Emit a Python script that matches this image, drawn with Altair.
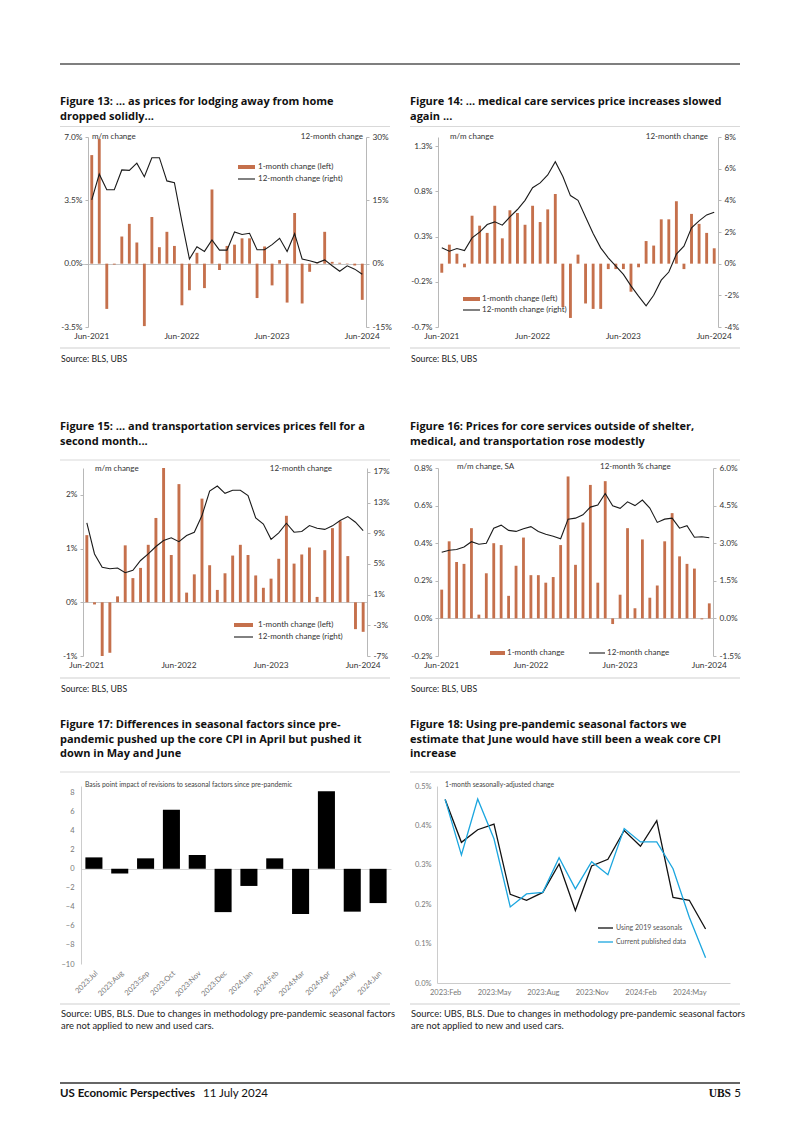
import altair as alt
import pandas as pd

FONT = "Lato"
TFONT = "Open Sans"
BAR = "#C5704C"
LINE = "#1a1a1a"
AX = "#b8b8b8"
LAB = "#333333"
SEP = "#d9d9d9"
BLUE = "#1BA6DF"

# ---------------- data ----------------
months = list(pd.date_range("2021-06-01", periods=37, freq="MS").strftime("%b-%Y"))
jun_ticks = ["Jun-2021", "Jun-2022", "Jun-2023", "Jun-2024"]

lodging_mm = [6.0, 6.9, -2.5, -0.05, 1.5, 2.2, 1.17, -3.45, 2.58, 0.91, 1.76, 0.98,
              -2.3, -1.47, 0.6, -1.35, 4.1, -0.35, 0.98, 1.05, 1.4, 1.4, -1.9, 0.95,
              -1.2, 0.2, -2.15, 2.8, -2.2, -0.45, 0.02, 1.76, 0.1, 0.05, 0.02, -0.1, -2.0]
lodging_yy = [15.1, 21.2, 17.5, 17.5, 22.2, 22.1, 23.8, 20.6, 25.1, 25.1, 19.6, 19.2,
              9.9, 1.1, 4.0, 2.9, 5.6, 3.2, 3.2, 7.5, 6.9, 7.2, 3.3, 3.3,
              4.5, 6.0, 2.9, 7.1, 1.1, 0.7, 0.2, 0.9, -0.5, -1.8, -0.5, -1.3, -2.5]

medical_mm = [-0.1, 0.21, 0.11, -0.04, 0.53, 0.42, 0.34, 0.64, 0.28, 0.59, 0.56, 0.43,
              0.64, 0.46, 0.60, 0.77, -0.48, -0.60, 0.10, -0.44, -0.50, -0.50, -0.06, -0.06,
              -0.06, -0.31, -0.04, 0.25, 0.20, 0.49, 0.49, 0.69, -0.06, 0.55, 0.44, 0.34, 0.17]
medical_yy = [1.0, 0.79, 0.96, 0.83, 1.63, 1.99, 2.47, 2.64, 2.43, 2.95, 3.42, 4.0,
              4.8, 5.1, 5.6, 6.44, 5.5, 4.3, 4.0, 2.95, 1.9, 1.0, 0.37, -0.15,
              -0.68, -1.4, -2.05, -2.67, -2.0, -1.04, -0.53, 0.6, 1.1, 2.26, 2.7, 3.08, 3.25]

transport_mm = [1.25, -0.04, -1.0, -0.94, 0.11, 1.06, 0.45, 0.64, 1.07, 1.57, 2.5, 0.88,
                2.2, 0.18, 0.52, 1.93, 0.69, 0.23, 0.54, 0.87, 1.07, 0.88, 0.5, 0.27,
                0.44, 0.81, 1.61, 0.72, 0.89, 1.02, 0.1, 0.97, 1.38, 1.51, 0.86, -0.5, -0.55]
transport_yy = [10.35, 6.3, 4.55, 4.37, 4.46, 3.85, 4.16, 5.45, 6.3, 7.27, 8.05, 8.4,
                7.9, 8.7, 9.13, 11.3, 14.5, 15.15, 14.2, 14.6, 14.6, 13.9, 11.0, 10.2,
                8.2, 9.05, 10.3, 9.13, 9.22, 10.0, 9.65, 9.5, 9.96, 10.65, 11.17, 10.43, 9.35]

core_mm = [0.153, 0.41, 0.30, 0.29, 0.48, 0.02, 0.24, 0.40, 0.39, 0.12, 0.28, 0.43,
           0.23, 0.23, 0.19, 0.22, 0.39, 0.755, 0.285, 0.51, 0.71, 0.19, 0.73, -0.03,
           0.126, 0.48, 0.054, 0.42, 0.11, 0.175, 0.41, 0.56, 0.33, 0.29, 0.265, -0.005, 0.08]
core_yy = [2.64, 2.72, 2.75, 2.85, 3.06, 2.96, 3.0, 3.6, 3.72, 3.51, 3.47, 3.58,
           3.66, 3.47, 3.36, 3.28, 3.18, 3.96, 4.0, 4.13, 4.44, 4.52, 4.98, 4.49,
           4.39, 4.65, 4.5, 4.72, 4.4, 3.83, 3.96, 4.0, 3.6, 3.7, 3.24, 3.26, 3.22]

sf_months = ["2023:Jul", "2023:Aug", "2023:Sep", "2023:Oct", "2023:Nov", "2023:Dec",
             "2024:Jan", "2024:Feb", "2024:Mar", "2024:Apr", "2024:May", "2024:Jun"]
sf_bp = [1.2, -0.5, 1.1, 6.2, 1.45, -4.55, -1.8, 1.1, -4.75, 8.15, -4.5, -3.6]

sa_months = ["2023:Feb", "2023:Mar", "2023:Apr", "2023:May", "2023:Jun", "2023:Jul",
             "2023:Aug", "2023:Sep", "2023:Oct", "2023:Nov", "2023:Dec", "2024:Jan",
             "2024:Feb", "2024:Mar", "2024:Apr", "2024:May", "2024:Jun"]
sa_axis_slots = sa_months + ["2024:Jul"]
sa_ticks = ["2023:Feb", "2023:May", "2023:Aug", "2023:Nov", "2024:Feb", "2024:May"]
sa_2019 = [0.466, 0.357, 0.389, 0.403, 0.225, 0.21, 0.23, 0.302, 0.184, 0.297, 0.314,
           0.387, 0.347, 0.412, 0.217, 0.21, 0.137]
sa_current = [0.466, 0.325, 0.467, 0.366, 0.193, 0.226, 0.23, 0.318, 0.239, 0.308, 0.275,
              0.392, 0.358, 0.358, 0.29, 0.167, 0.064]
sa_series = ["Using 2019 seasonals", "Current published data"]

ONE = pd.DataFrame({"k": [0]})
ZERO_GRID = {"condition": {"test": "datum.value === 0", "value": 1}, "value": 0}


# ---------------- helpers ----------------
def pct(dec):
    return f"replace(format(datum.value, '.{dec}f'), '\u2212', '-') + '%'"


def txt(o, x, y, s, size=8.0, color=LAB, align="left", weight="normal",
        baseline="middle", lh=None, font=FONT):
    kw = dict(align=align, baseline=baseline, fontSize=size, color=color,
              fontWeight=weight, font=font)
    if lh is not None:
        kw["lineHeight"] = lh
    return alt.Chart(ONE).mark_text(**kw).encode(
        x=alt.value(x - o[0]), y=alt.value(y - o[1]), text=alt.value(s))


def hrule(o, x1, x2, y, color=SEP, width=1.0):
    return alt.Chart(ONE).mark_rule(color=color, strokeWidth=width).encode(
        x=alt.value(x1 - o[0]), x2=alt.value(x2 - o[0]), y=alt.value(y - o[1]))


def frame_layers(o, col_x, title_lines, title_y, title_sep_y, src_sep_y, src_lines, src_y,
                 src_size=8.7):
    return [
        txt(o, col_x, title_y, title_lines, size=11.0, color="#111", weight="bold",
            baseline="alphabetic", lh=14.5, font=TFONT),
        hrule(o, col_x, col_x + 330, title_sep_y, SEP, 1),
        hrule(o, col_x, col_x + 330, src_sep_y, "#cfcfcf", 1),
        txt(o, col_x + 1, src_y, src_lines, size=src_size, color="#222", lh=11.5),
    ]


def dual_panel(mm, yy, ld, lt, ldec, rd, rt, rdec, w, h, d, extra):
    """w: visible plot width, d: extra room on the left (plot starts d px further right)."""
    n = len(months)
    W = w + d
    step = w / n
    total_outer = d + 0.62 * step
    left_outer = d + 0.31 * step
    base = alt.Chart(pd.DataFrame({"month": months, "mm": mm, "yy": yy}))
    x = alt.X("month:N", sort=months, title=None,
              scale=alt.Scale(domain=months, paddingInner=0.62,
                              paddingOuter=total_outer / (2 * step),
                              align=left_outer / total_outer),
              axis=alt.Axis(values=jun_ticks, labelAngle=0, domain=False, ticks=False,
                            labelFontSize=8.3, labelColor=LAB, labelPadding=4, labelFont=FONT))
    bars = base.mark_bar(color=BAR).encode(
        x=x,
        y=alt.Y("mm:Q", title=None, scale=alt.Scale(domain=ld, nice=False, zero=False),
                axis=alt.Axis(values=lt, labelExpr=pct(ldec), orient="left",
                              grid=True, gridColor=AX, gridWidth=0.8, gridOpacity=ZERO_GRID,
                              offset=-d, labelOverlap=False,
                              domainColor=AX, tickColor=AX, tickSize=3, labelFontSize=8.3,
                              labelColor=LAB, labelPadding=3, labelFont=FONT)))
    line = base.mark_line(color=LINE, strokeWidth=1.1).encode(
        x=x,
        y=alt.Y("yy:Q", title=None, scale=alt.Scale(domain=rd, nice=False, zero=False),
                axis=alt.Axis(values=rt, labelExpr=pct(rdec), orient="right", grid=False,
                              labelOverlap=False,
                              domainColor=AX, tickColor=AX, tickSize=3, labelFontSize=8.3,
                              labelColor=LAB, labelPadding=3, labelFont=FONT)))
    return alt.layer(bars, line, *extra).resolve_scale(
        y="independent").properties(width=W, height=h)


def spacer(w, h, layers=()):
    base = alt.Chart(ONE).mark_text(fontSize=1).encode(
        x=alt.value(0), y=alt.value(0), text=alt.value(" "))
    return alt.layer(base, *layers).properties(width=w, height=h)


SRC1 = "Source: BLS, UBS"
SRC3 = ["Source: UBS, BLS. Due to changes in methodology pre-pandemic seasonal factors",
        "are not applied to new and used cars."]

LEFT_X = 81    # page x of the left column's plot groups
RIGHT_X = 437  # page x of the right column's plot groups

# ---------------- Figure 13 ----------------
o13 = (LEFT_X, 136)
ann13 = frame_layers(o13, 60, ["Figure 13: \u2026 as prices for lodging away from home",
                               "dropped solidly..."], 104, 125.5, 347, SRC1, 358) + [
    txt(o13, 92, 136, "m/m change"),
    txt(o13, 363, 136, "12-month change", align="right"),
    hrule(o13, 238, 255, 166, BAR, 4),
    txt(o13, 258, 166, "1-month change (left)"),
    hrule(o13, 238, 255, 178, LINE, 1.1),
    txt(o13, 258, 178, "12-month change (right)"),
]
p13 = dual_panel(lodging_mm, lodging_yy, [-3.5, 7.0], [-3.5, 0, 3.5, 7.0], 1,
                 [-15, 30], [-15, 0, 15, 30], 0, 278, 190, 88 - LEFT_X, ann13)

# ---------------- Figure 14 ----------------
o14 = (RIGHT_X, 136)
ann14 = frame_layers(o14, 410, ["Figure 14: \u2026 medical care services price increases slowed",
                                "again ..."], 104, 125.5, 347, SRC1, 358) + [
    txt(o14, 450, 136, "m/m change"),
    txt(o14, 708, 136, "12-month change", align="right"),
    hrule(o14, 463, 480, 298, BAR, 4),
    txt(o14, 482, 298, "1-month change (left)"),
    hrule(o14, 463, 480, 309, LINE, 1.1),
    txt(o14, 482, 309, "12-month change (right)"),
]
p14 = dual_panel(medical_mm, medical_yy, [-0.7, 1.4], [-0.7, -0.2, 0.3, 0.8, 1.3], 1,
                 [-4, 8], [-4, -2, 0, 2, 4, 6, 8], 0, 280, 190, 438 - RIGHT_X, ann14)

# ---------------- Figure 15 ----------------
o15 = (LEFT_X, 467)
ann15 = frame_layers(o15, 60, ["Figure 15: \u2026 and transportation services prices fell for a",
                               "second month..."], 429, 459, 677, SRC1, 688) + [
    txt(o15, 95, 468, "m/m change"),
    txt(o15, 332, 468, "12-month change", align="right"),
    hrule(o15, 234, 253, 624, BAR, 4),
    txt(o15, 258, 624, "1-month change (left)"),
    hrule(o15, 234, 253, 636, LINE, 1.1),
    txt(o15, 258, 636, "12-month change (right)"),
]
p15 = dual_panel(transport_mm, transport_yy, [-1, 2.5], [-1, 0, 1, 2], 0,
                 [-7, 17.5], [-7, -3, 1, 5, 9, 13, 17], 0, 284, 188, 83 - LEFT_X, ann15)

# ---------------- Figure 16 ----------------
o16 = (RIGHT_X, 467)
ann16 = frame_layers(o16, 410, ["Figure 16: Prices for core services outside of shelter,",
                                "medical, and transportation rose modestly"], 429, 459, 677, SRC1, 688) + [
    txt(o16, 457, 466, "m/m change, SA"),
    txt(o16, 600, 466, "12-month % change"),
    hrule(o16, 490, 505, 652, BAR, 4),
    txt(o16, 507, 652, "1-month change"),
    hrule(o16, 589, 605, 652, LINE, 1.1),
    txt(o16, 607, 652, "12-month change"),
]
p16 = dual_panel(core_mm, core_yy, [-0.2, 0.8], [-0.2, 0.0, 0.2, 0.4, 0.6, 0.8], 1,
                 [-1.5, 6.0], [-1.5, 0.0, 1.5, 3.0, 4.5, 6.0], 1, 275, 188, 438 - RIGHT_X, ann16)

# ---------------- Figure 17 ----------------
o17 = (LEFT_X, 785)
GR = "#777777"
ann17 = frame_layers(o17, 60, ["Figure 17: Differences in seasonal factors since pre-",
                               "pandemic pushed up the core CPI in April but pushed it",
                               "down in May and June"], 727, 771, 1003, SRC3, 1013,
                     src_size=9.4) + [
    txt(o17, 85, 784, "Basis point impact of revisions to seasonal factors since pre-pandemic",
        size=6.8, color="#444"),
]
sf = pd.DataFrame({"m": sf_months, "bp": sf_bp})
bars17 = alt.Chart(sf).mark_bar(color="black").encode(
    x=alt.X("m:N", sort=sf_months, title=None,
            scale=alt.Scale(domain=sf_months, paddingInner=0.34, paddingOuter=0.17),
            axis=alt.Axis(labelAngle=-45, domain=False, ticks=False, labelColor=GR,
                          labelFontSize=7.5, labelPadding=5, labelFont=FONT)),
    y=alt.Y("bp:Q", title=None, scale=alt.Scale(domain=[-10, 8.7], nice=False),
            axis=alt.Axis(values=list(range(-10, 9, 2)), domainColor="#cccccc",
                          grid=True, gridColor="#cccccc", gridWidth=0.8, gridOpacity=ZERO_GRID,
                          labelOverlap=False,
                          ticks=False, labelColor=GR, labelFontSize=7.5, labelPadding=7,
                          labelFont=FONT)))
p17 = alt.layer(bars17, *ann17).properties(width=310, height=178)

# ---------------- Figure 18 ----------------
o18 = (RIGHT_X, 785)
ann18 = frame_layers(o18, 410, ["Figure 18: Using pre-pandemic seasonal factors we",
                                "estimate that June would have still been a weak core CPI",
                                "increase"], 727, 771, 1003, SRC3, 1013, src_size=9.4) + [
    txt(o18, 445, 784, "1-month seasonally-adjusted change", size=6.8, color="#444"),
    hrule(o18, 598, 613, 927, "#111111", 1.3),
    txt(o18, 616, 927, "Using 2019 seasonals", size=7, color="#555"),
    hrule(o18, 598, 613, 941, BLUE, 1.3),
    txt(o18, 616, 941, "Current published data", size=7, color="#555"),
]
df18 = pd.DataFrame({
    "m": sa_months * 2,
    "v": sa_2019 + sa_current,
    "s": [sa_series[0]] * len(sa_months) + [sa_series[1]] * len(sa_months),
})
lines18 = alt.Chart(df18).mark_line(strokeWidth=1.3).encode(
    x=alt.X("m:N", sort=sa_axis_slots, title=None,
            scale=alt.Scale(domain=sa_axis_slots, paddingInner=0, paddingOuter=0),
            axis=alt.Axis(values=sa_ticks, labelAngle=0, domainColor="#cccccc", ticks=False,
                          labelColor=GR, labelFontSize=7.5, labelPadding=5, labelFont=FONT)),
    y=alt.Y("v:Q", title=None, scale=alt.Scale(domain=[0, 0.5], nice=False),
            axis=alt.Axis(values=[0, 0.1, 0.2, 0.3, 0.4, 0.5], labelExpr=pct(1), grid=False,
                          labelOverlap=False,
                          domainColor="#cccccc", ticks=False, labelColor=GR, labelFontSize=7.5,
                          labelPadding=6, labelFont=FONT)),
    color=alt.Color("s:N", scale=alt.Scale(domain=sa_series, range=["#111111", BLUE]),
                    legend=None),
)
p18 = alt.layer(lines18, *ann18).properties(width=293, height=197)

# ---------------- page grid ----------------
top_o = (8, 8)
top = spacer(1, 128, [hrule(top_o, 60, 740, 63, "#555555", 1.6)])
bot_o = (8, 982)
bottom = spacer(1, 128, [
    hrule(bot_o, 60, 740, 1082, "#333333", 1.4),
    txt(bot_o, 60, 1093, "US Economic Perspectives", size=11.5, color="#111", weight="bold"),
    txt(bot_o, 203, 1093, "11 July 2024", size=11.5, color="#111"),
    txt(bot_o, 731, 1093, "UBS", size=11.5, color="#111", weight="bold",
        align="right", font="Liberation Serif"),
    txt(bot_o, 741, 1093, "5", size=11.5, color="#111", align="right"),
])


def e():
    return spacer(1, 1)


GAP_A = LEFT_X - 8                       # left margin column
GAP_B = RIGHT_X - LEFT_X - 310           # gutter column (310 = widest left plot)

cells = [
    top, e(), e(), e(),
    spacer(GAP_A, 1), p13, spacer(GAP_B, 1), p14,
    spacer(1, 141), e(), e(), e(),
    spacer(GAP_A, 1), p15, spacer(GAP_B, 1), p16,
    spacer(1, 130), e(), e(), e(),
    spacer(GAP_A, 1), p17, spacer(GAP_B, 1), p18,
    bottom, e(), e(), e(),
]

chart = alt.concat(
    *cells, columns=4, spacing=0, bounds="flush", align="each",
).properties(padding=0).configure(font=FONT).configure_view(strokeWidth=0, stroke="transparent")

chart.save("out.html", embed_options={"renderer": "svg", "actions": False})
